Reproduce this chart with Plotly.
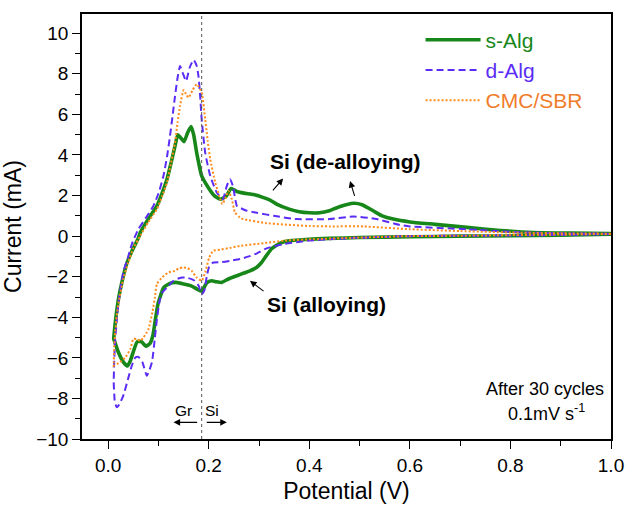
import plotly.graph_objects as go

# ---------------- data ----------------
# s-Alg: cathodic sweep (1.0 -> 0.01 V) followed by anodic sweep (0.01 -> 1.0 V)
salg_cat_v = [1.0, 0.9, 0.8, 0.7, 0.6, 0.5, 0.44, 0.40, 0.36, 0.345, 0.335, 0.325, 0.315,
              0.305, 0.295, 0.282, 0.27, 0.256, 0.24, 0.226, 0.215, 0.206, 0.196, 0.186,
              0.176, 0.165, 0.15, 0.135, 0.127, 0.118, 0.110, 0.104, 0.099, 0.094, 0.089,
              0.083, 0.075, 0.066, 0.058, 0.050, 0.044, 0.038, 0.030, 0.020, 0.011]
salg_cat_i = [0.10, 0.05, 0.02, 0.0, -0.03, -0.07, -0.11, -0.15, -0.23, -0.32, -0.45, -0.62, -0.95,
              -1.3, -1.55, -1.71, -1.82, -1.95, -2.1, -2.28, -2.25, -2.2, -2.3, -2.72,
              -2.6, -2.45, -2.36, -2.28, -2.3, -2.4, -2.55, -2.95, -3.35, -4.1, -4.9,
              -5.3, -5.42, -5.2, -5.2, -5.7, -6.15, -6.4, -6.2, -5.7, -5.05]
salg_an_v = [0.011, 0.014, 0.0205, 0.028, 0.037, 0.048, 0.060, 0.064, 0.08, 0.097, 0.107, 0.117,
             0.125, 0.133, 0.1385, 0.144, 0.151, 0.158, 0.165, 0.170, 0.176, 0.181, 0.186,
             0.199, 0.211, 0.223, 0.234, 0.2445, 0.256, 0.27, 0.289, 0.309, 0.322, 0.335,
             0.36, 0.38, 0.40, 0.42, 0.44, 0.46, 0.488, 0.505, 0.527, 0.545, 0.567, 0.60,
             0.65, 0.713, 0.78, 0.845, 0.92, 1.0]
salg_an_i = [-5.05, -4.3, -3.1, -2.2, -1.35, -0.7, -0.1, 0.18, 0.85, 1.49, 2.1, 2.8,
             3.6, 4.45, 5.0, 4.85, 4.66, 5.1, 5.4, 5.0, 4.12, 3.5, 2.97,
             2.4, 2.0, 1.82, 1.95, 2.35, 2.2, 2.12, 2.05, 1.9, 1.78, 1.58,
             1.33, 1.2, 1.15, 1.15, 1.25, 1.45, 1.62, 1.55, 1.25, 1.0, 0.84, 0.70,
             0.58, 0.43, 0.28, 0.18, 0.15, 0.13]

# d-Alg
dalg_cat_v = [1.0, 0.9, 0.8, 0.7, 0.6, 0.5, 0.44, 0.40, 0.35, 0.315, 0.296, 0.28, 0.262,
              0.2425, 0.226, 0.209, 0.201, 0.196, 0.191, 0.186, 0.180, 0.172, 0.166, 0.155,
              0.147, 0.138, 0.130, 0.117, 0.107, 0.103, 0.097, 0.093, 0.087, 0.077, 0.068,
              0.060, 0.054, 0.047, 0.040, 0.030, 0.022, 0.017, 0.013, 0.011]
dalg_cat_i = [0.10, 0.06, 0.03, 0.02, 0.0, -0.08, -0.15, -0.22, -0.39, -0.6, -0.85, -1.0, -1.13,
              -1.22, -1.28, -1.3, -1.5, -2.0, -2.7, -2.86, -2.45, -2.2, -2.12, -2.04,
              -2.04, -2.1, -2.2, -2.53, -2.8, -3.1, -4.09, -5.0, -6.22, -6.88, -6.2,
              -5.95, -5.98, -6.39, -7.0, -7.87, -8.3, -8.44, -8.1, -7.2]
dalg_an_v = [0.011, 0.012, 0.014, 0.017, 0.0205, 0.030, 0.040, 0.047, 0.060, 0.075, 0.090,
             0.100, 0.110, 0.117, 0.123, 0.128, 0.133, 0.138, 0.143, 0.149, 0.155, 0.162,
             0.170, 0.176, 0.180, 0.183, 0.186, 0.193, 0.203, 0.216, 0.228, 0.236, 0.2425,
             0.248, 0.256, 0.262, 0.276, 0.296, 0.329, 0.375, 0.44, 0.488, 0.534, 0.58,
             0.60, 0.713, 0.81, 0.9, 1.0]
dalg_an_i = [-7.2, -6.2, -5.1, -4.2, -3.3, -1.79, -1.0, -0.4, 0.34, 0.9, 1.49,
             2.1, 2.97, 3.9, 4.94, 5.9, 6.91, 7.8, 8.39, 8.0, 7.65, 8.3,
             8.69, 8.4, 7.82, 6.9, 5.76, 4.12, 2.97, 2.15, 1.82, 2.48, 2.81,
             2.48, 1.49, 1.4, 1.25, 1.15, 1.0, 0.84, 0.84, 0.97, 0.84, 0.55,
             0.48, 0.34, 0.2, 0.14, 0.12]

# CMC/SBR
cmc_cat_v = [1.0, 0.9, 0.8, 0.7, 0.6, 0.5, 0.408, 0.35, 0.309, 0.262, 0.2425, 0.225, 0.209,
             0.201, 0.193, 0.186, 0.176, 0.166, 0.158, 0.150, 0.140, 0.133, 0.120, 0.107,
             0.097, 0.093, 0.088, 0.080, 0.077, 0.070, 0.064, 0.057, 0.050, 0.044, 0.034,
             0.0205, 0.011]
cmc_cat_i = [0.11, 0.08, 0.05, 0.02, 0.0, -0.07, -0.15, -0.22, -0.35, -0.48, -0.58, -0.66, -0.72,
             -1.05, -1.79, -2.2, -2.04, -1.71, -1.58, -1.54, -1.6, -1.71, -1.79, -2.04,
             -2.36, -3.0, -3.76, -4.6, -4.74, -5.0, -5.16, -5.07, -5.07, -5.57, -5.98,
             -6.26, -6.39]
cmc_an_v = [0.011, 0.012, 0.014, 0.017, 0.0205, 0.030, 0.040, 0.050, 0.064, 0.08, 0.097,
            0.107, 0.117, 0.125, 0.133, 0.138, 0.143, 0.150, 0.155, 0.160, 0.168, 0.176,
            0.186, 0.193, 0.198, 0.203, 0.213, 0.223, 0.227, 0.233, 0.239, 0.246, 0.252,
            0.262, 0.269, 0.315, 0.40, 0.44, 0.508, 0.60, 0.7, 0.8, 0.9, 1.0]
cmc_an_i = [-6.39, -5.5, -4.74, -3.93, -3.3, -2.12, -1.3, -0.6, 0.02, 0.7, 1.33,
            1.95, 2.64, 3.6, 4.61, 5.6, 6.42, 7.2, 7.0, 6.83, 7.2, 7.49,
            7.08, 5.76, 4.7, 3.79, 2.64, 1.82, 1.58, 1.85, 2.23, 1.82, 1.17,
            0.92, 0.84, 0.64, 0.5, 0.48, 0.48, 0.34, 0.25, 0.18, 0.14, 0.12]

series_names = ["s-Alg", "d-Alg", "CMC/SBR"]
gr_si_boundary = 0.186

# ---------------- figure ----------------
FONT = "Liberation Sans, Arial, sans-serif"
GREEN = "#17871a"
BLUE = "#5b2cf5"
ORANGE = "#ff8c1a"
ORANGE_TXT = "#f07c2a"

fig = go.Figure()
specs = [
    (salg_cat_v + salg_an_v, salg_cat_i + salg_an_i, GREEN, GREEN, 3.6, "solid"),
    (dalg_cat_v + dalg_an_v, dalg_cat_i + dalg_an_i, BLUE, BLUE, 2.0, "7px,4px"),
    (cmc_cat_v + cmc_an_v, cmc_cat_i + cmc_an_i, ORANGE, ORANGE_TXT, 2.0, "2px,2px"),
]
for name, (xv, yv, col, tcol, w, dash) in zip(series_names, specs):
    fig.add_trace(go.Scatter(
        x=xv, y=yv, mode="lines",
        name=f'<span style="color:{tcol}">{name}</span>',
        line=dict(color=col, width=w, dash=dash, shape="spline", smoothing=0.5),
    ))

fig.add_shape(type="line", xref="x", yref="paper", x0=gr_si_boundary, x1=gr_si_boundary,
              y0=0, y1=1, line=dict(color="#555555", width=1, dash="3px,3px"))

ann = []
bold = dict(family=FONT, size=21, color="black")
ann.append(dict(x=0.472, y=3.69, text="<b>Si (de-alloying)</b>", showarrow=False, font=bold))
ann.append(dict(x=0.434, y=-3.35, text="<b>Si (alloying)</b>", showarrow=False, font=bold))
for (hx, hy, tx, ty) in [(0.348, 2.84, 0.325, 2.18), (0.481, 2.72, 0.491, 1.91),
                         (0.282, -2.2, 0.312, -2.77), (0.130, -9.18, 0.180, -9.18),
                         (0.236, -9.18, 0.193, -9.18)]:
    ann.append(dict(x=hx, y=hy, ax=tx, ay=ty, axref="x", ayref="y", text="",
                    showarrow=True, arrowhead=2, arrowsize=1.2, arrowwidth=1.1,
                    arrowcolor="black"))
small = dict(family=FONT, size=15.5, color="black")
ann.append(dict(x=0.150, y=-8.6, text="Gr", showarrow=False, font=small))
ann.append(dict(x=0.207, y=-8.6, text="Si", showarrow=False, font=small))
mid = dict(family=FONT, size=18, color="black")
ann.append(dict(x=0.99, y=-7.54, text="After 30 cycles", showarrow=False, font=mid,
                xanchor="right"))
ann.append(dict(x=0.872, y=-8.67, text="0.1mV s<sup>-1</sup>", showarrow=False, font=mid))
for a in ann:
    a.setdefault("xref", "x")
    a.setdefault("yref", "y")
fig.update_layout(annotations=ann)

axis_common = dict(showline=True, linecolor="black", linewidth=1.5, mirror=True,
                   ticks="outside", tickcolor="black", tickwidth=1.3, ticklen=8,
                   showgrid=False, zeroline=False, automargin=False,
                   tickfont=dict(family=FONT, size=19, color="black"))
fig.update_xaxes(range=[-0.052, 1.0], dtick=0.2, tick0=0, tickformat=".1f",
                 minor=dict(dtick=0.1, ticks="outside", ticklen=5, tickcolor="black"),
                 title=dict(text="Potential (V)", font=dict(family=FONT, size=23, color="black"),
                            standoff=8),
                 **axis_common)
fig.update_yaxes(range=[-10, 10.95], dtick=2, tick0=0,
                 minor=dict(dtick=1, ticks="outside", ticklen=5, tickcolor="black"),
                 title=dict(text="Current (mA)", font=dict(family=FONT, size=23, color="black"),
                            standoff=8),
                 **axis_common)

fig.update_layout(
    width=626, height=509,
    margin=dict(l=82, r=15, t=14, b=70),
    paper_bgcolor="white", plot_bgcolor="white",
    font=dict(family=FONT, color="black"),
    showlegend=True,
    legend=dict(x=0.64, y=0.987, xanchor="left", yanchor="top",
                font=dict(family=FONT, size=21), bgcolor="rgba(0,0,0,0)",
                itemwidth=55, tracegroupgap=0),
)

fig.write_html("out.html")
